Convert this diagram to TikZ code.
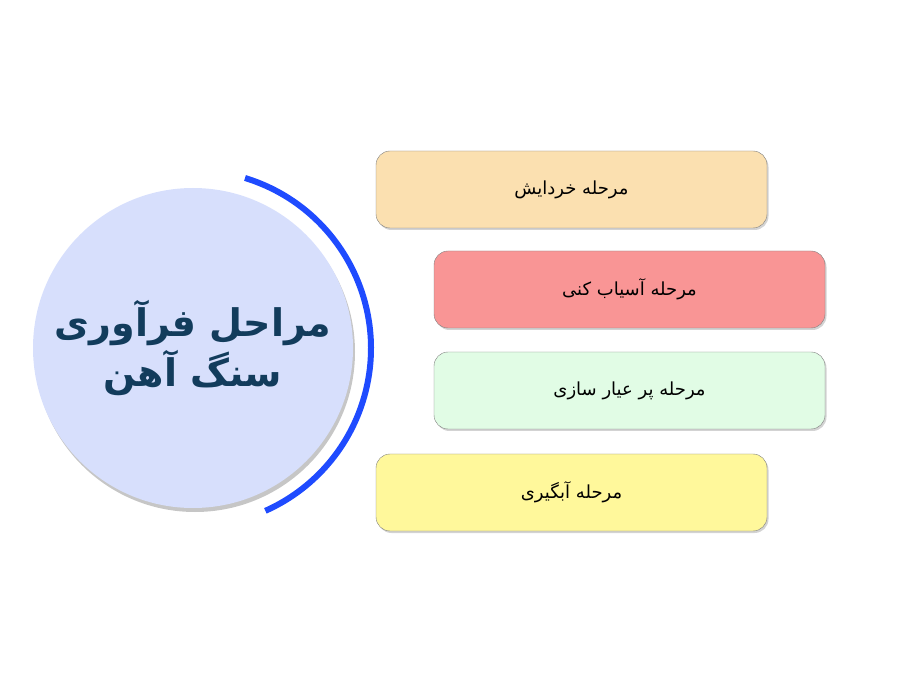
\documentclass[tikz,border=0pt]{standalone}
\usepackage{fontspec}
\newfontfamily\arabicfont[Script=Arabic]{DejaVu Sans}
\TeXXeTstate=1
\usetikzlibrary{shadows}
\definecolor{cA}{HTML}{FBE0B0}
\definecolor{cB}{HTML}{F99595}
\definecolor{cC}{HTML}{E1FCE5}
\definecolor{cD}{HTML}{FFF89B}
\definecolor{cCirc}{HTML}{D7DFFC}
\definecolor{cTitle}{HTML}{123C5C}
\definecolor{cArc}{HTML}{1F4BFF}
\tikzset{
  stage/.style={draw=gray, rounded corners=14pt, minimum width=391pt, minimum height=77pt, drop shadow={shadow xshift=1.5pt,shadow yshift=-2pt,opacity=0.35}, font=\arabicfont\fontsize{18}{22}\selectfont},
}
\begin{document}
\begin{tikzpicture}[x=1pt,y=-1pt]
\useasboundingbox (0,0) rectangle (900,700);
\node[circle, fill=cCirc, minimum size=320pt, drop shadow={shadow xshift=2pt,shadow yshift=-4pt,opacity=0.45}, align=center, font=\arabicfont\bfseries\fontsize{38}{50}\selectfont, text=cTitle] (c) at (193,348) {\beginR مراحل فرآوری\endR\\\beginR سنگ آهن\endR};
\draw[cArc, line width=6pt] (245,178) arc[start angle=-73, end angle=66, radius=178];
\node[stage, fill=cA] (s1) at (571.5,189.5) {\beginR مرحله خردایش\endR};
\node[stage, fill=cB] (s2) at (629.5,289.5) {\beginR مرحله آسیاب کنی\endR};
\node[stage, fill=cC] (s3) at (629.5,390.5) {\beginR مرحله پر عیار سازی\endR};
\node[stage, fill=cD] (s4) at (571.5,492.5) {\beginR مرحله آبگیری\endR};
\end{tikzpicture}
\end{document}
